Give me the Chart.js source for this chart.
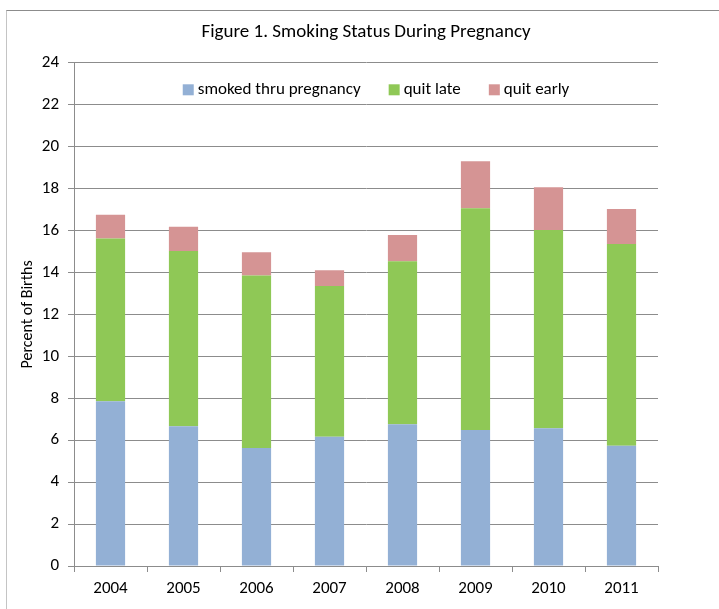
<!DOCTYPE html>
<html>
<head>
<meta charset="utf-8">
<script src="https://cdn.jsdelivr.net/npm/chart.js@4/dist/chart.umd.min.js"></script>
<style>
  html, body { margin: 0; padding: 0; background: #fff; }
  #wrap { position: relative; width: 719px; height: 609px; overflow: hidden; }
  #frame {
    position: absolute; left: 6px; top: 10px; width: 760px; height: 700px;
    border-top: 1px solid #8c8c8c; border-left: 1px solid #c4c4c4;
  }
  canvas { position: absolute; left: 0; top: 0; }
</style>
</head>
<body>
<div id="wrap">
  <div id="frame"></div>
  <canvas id="chart" width="719" height="609"></canvas>
</div>
<script>
// Smoking status during pregnancy, percent of births by year
const years = ['2004', '2005', '2006', '2007', '2008', '2009', '2010', '2011'];
const smokedThru = [7.86, 6.67, 5.63, 6.16, 6.76, 6.49, 6.57, 5.73];
const quitLate   = [7.76, 8.35, 8.23, 7.19, 7.77, 10.57, 9.45, 9.63];
const quitEarly  = [1.13, 1.16, 1.11, 0.76, 1.26, 2.24, 2.05, 1.67];
const yTicks = [0, 2, 4, 6, 8, 10, 12, 14, 16, 18, 20, 22, 24];

const FONT = 'Carlito, Calibri, "Liberation Sans Narrow", "Open Sans", sans-serif';
Chart.defaults.font.family = FONT;
Chart.defaults.color = '#000';

const barStyle = { barPercentage: 0.4, categoryPercentage: 1.0, borderWidth: 0 };

// Horizontal legend drawn inside the plot, just under the top gridline.
const legendInPlot = {
  id: 'legendInPlot',
  afterDraw(chart, args, opts) {
    const ctx = chart.ctx;
    const area = chart.chartArea;
    const box = opts.boxSize, gap = opts.textGap, spacing = opts.spacing;
    ctx.save();
    ctx.font = `${opts.fontSize}px ${FONT}`;
    const items = chart.data.datasets.map(ds => ({
      label: ds.label, color: ds.backgroundColor,
      w: box + gap + ctx.measureText(ds.label).width
    }));
    const total = items.reduce((s, it) => s + it.w, 0) + spacing * (items.length - 1);
    let x = (area.left + area.right) / 2 + opts.shiftX - total / 2;
    const y = area.top + opts.offsetY;
    ctx.textBaseline = 'middle';
    ctx.textAlign = 'left';
    items.forEach(it => {
      ctx.fillStyle = it.color;
      ctx.fillRect(x, y - box / 2, box, box);
      ctx.fillStyle = '#000';
      ctx.fillText(it.label, x + box + gap, y);
      x += it.w + spacing;
    });
    ctx.restore();
  }
};

new Chart(document.getElementById('chart'), {
  type: 'bar',
  data: {
    labels: years,
    datasets: [
      { label: 'smoked thru pregnancy', data: smokedThru, backgroundColor: '#93b0d5', ...barStyle },
      { label: 'quit late', data: quitLate, backgroundColor: '#8fc856', ...barStyle },
      { label: 'quit early', data: quitEarly, backgroundColor: '#d59494', ...barStyle }
    ]
  },
  plugins: [legendInPlot],
  options: {
    responsive: false,
    animation: false,
    layout: { padding: { left: 13, right: 0, top: 0, bottom: 0 } },
    plugins: {
      title: {
        display: true,
        text: 'Figure 1. Smoking Status During Pregnancy',
        font: { size: 19, weight: 'normal' },
        color: '#000',
        padding: { top: 21, bottom: 19 }
      },
      legend: { display: false },
      legendInPlot: { boxSize: 11, textGap: 4, spacing: 28, fontSize: 17, offsetY: 27, shiftX: 10 },
      tooltip: { enabled: false }
    },
    scales: {
      x: {
        stacked: true,
        offset: true,
        grid: { drawOnChartArea: false, drawTicks: true, tickLength: 6, color: '#8c8c8c', offset: true },
        border: { display: true, color: '#8c8c8c' },
        ticks: { font: { size: 17 }, color: '#000', padding: 7 },
        afterFit: (s) => { s.height = 43; }
      },
      y: {
        stacked: true,
        min: 0,
        max: 24,
        afterBuildTicks: (s) => { s.ticks = yTicks.map(v => ({ value: v })); },
        grid: { color: '#8c8c8c', tickLength: 6 },
        border: { display: true, color: '#8c8c8c' },
        ticks: { font: { size: 17 }, color: '#000', padding: 9 },
        title: {
          display: true,
          text: 'Percent of Births',
          font: { size: 16 },
          color: '#000',
          padding: { top: 5, bottom: 0 }
        },
        afterFit: (s) => { s.width = 61; }
      },
      // empty right-hand axis that only reserves the margin beside the plot
      yRight: {
        position: 'right',
        display: true,
        grid: { display: false },
        border: { display: false },
        ticks: { display: false },
        afterFit: (s) => { s.width = 61; }
      }
    }
  }
});
</script>
</body>
</html>
